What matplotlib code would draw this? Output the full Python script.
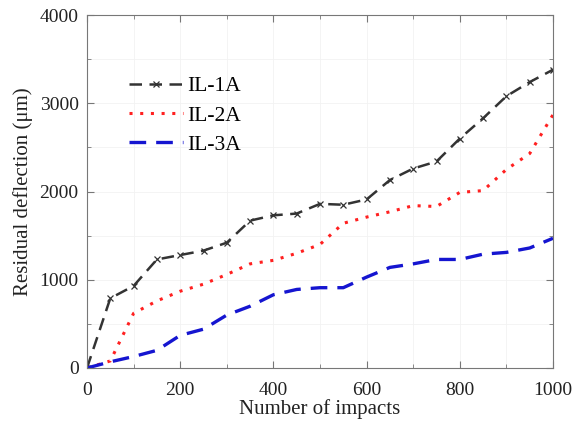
import matplotlib
matplotlib.use("Agg")
import matplotlib.pyplot as plt
from matplotlib.ticker import MultipleLocator

impacts = [0, 50, 100, 150, 200, 250, 300, 350, 400, 450, 500,
           550, 600, 650, 700, 750, 800, 850, 900, 950, 1000]
il_1a = [0, 790, 930, 1230, 1280, 1330, 1420, 1670, 1730, 1750, 1860,
         1850, 1910, 2130, 2260, 2340, 2600, 2830, 3080, 3240, 3380]
il_2a = [0, 80, 620, 760, 870, 950, 1060, 1180, 1220, 1300, 1400,
         1640, 1710, 1770, 1840, 1830, 1990, 2010, 2250, 2430, 2870]
il_3a = [0, 70, 130, 200, 370, 440, 600, 700, 830, 890, 910,
         910, 1030, 1140, 1180, 1230, 1230, 1290, 1310, 1360, 1470]

plt.rcParams.update({
    "font.family": "Liberation Serif",
    "axes.edgecolor": "#777777",
    "xtick.color": "#777777",
    "ytick.color": "#777777",
    "xtick.labelcolor": "#222222",
    "ytick.labelcolor": "#222222",
})

fig = plt.figure(figsize=(5.76, 4.21), dpi=100)
ax = fig.add_axes([87 / 576, 1 - 368 / 421, 466 / 576, 353 / 421])

ax.plot(impacts, il_1a, color="#333333", linestyle=(0, (5, 3)), linewidth=1.8,
        marker="x", markersize=5, markeredgewidth=0.9, label="IL-1A")
ax.plot(impacts, il_2a, color="#ff2020", linestyle=(0, (1, 2.5)), linewidth=2.2,
        label="IL-2A")
ax.plot(impacts, il_3a, color="#1515d0", linestyle=(0, (5, 3)), linewidth=2.4,
        label="IL-3A")

ax.set_xlim(0, 1000)
ax.set_ylim(0, 4000)
ax.xaxis.set_major_locator(MultipleLocator(200))
ax.xaxis.set_minor_locator(MultipleLocator(100))
ax.yaxis.set_major_locator(MultipleLocator(1000))
ax.yaxis.set_minor_locator(MultipleLocator(500))
ax.tick_params(which="both", direction="in", top=True, right=True, labelsize=14)
ax.tick_params(which="major", length=5)
ax.tick_params(which="minor", length=3)
ax.tick_params(axis="x", pad=10)
ax.tick_params(axis="y", pad=6)
ax.grid(True, which="both", color="#f2f2f2", linewidth=0.6)
ax.set_axisbelow(True)

ax.set_xlabel("Number of impacts", fontsize=15, labelpad=0, color="#222222")
ax.set_ylabel("Residual deflection (\u03bcm)", fontsize=15, labelpad=5, color="#222222")

ax.legend(loc="upper left", bbox_to_anchor=(0.09, 0.826), frameon=False,
          fontsize=15.5, handlelength=2.5, handletextpad=0.2, labelspacing=0.42,
          borderaxespad=0, borderpad=0)

fig.savefig("out.png", dpi=100)
